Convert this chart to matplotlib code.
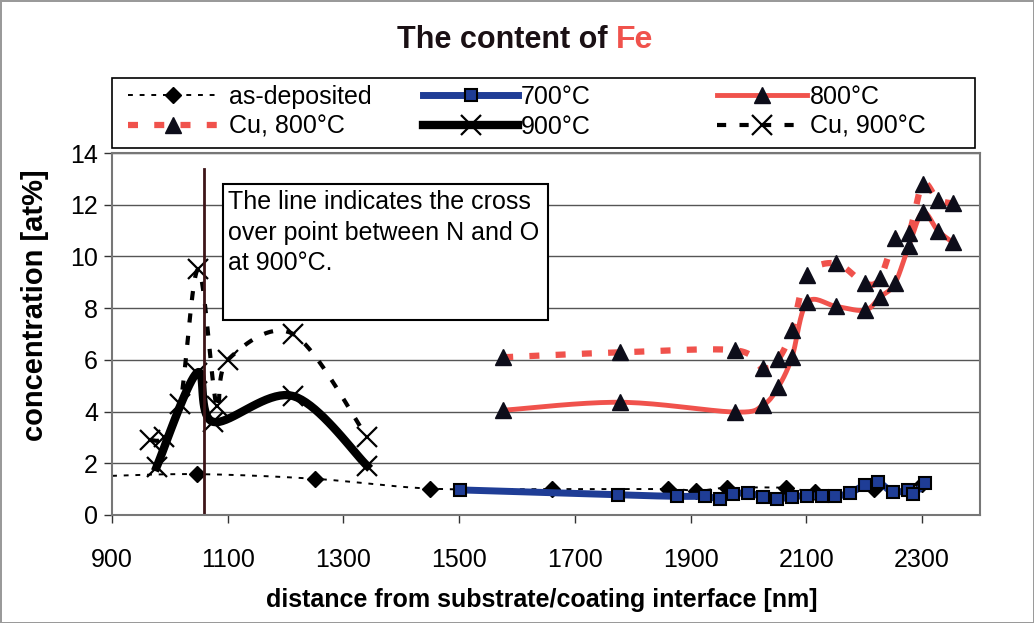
import numpy as np
import matplotlib.pyplot as plt
from matplotlib.patches import Rectangle

# --- data ---
asdep_x = [880, 1047, 1250, 1449, 1660, 1860, 1910, 1962, 2064, 2114, 2216, 2300]
asdep_y = [1.5, 1.58, 1.4, 1.02, 1.0, 1.0, 0.93, 1.05, 1.05, 0.9, 1.0, 1.2]

x700 = [1501, 1774, 1876, 1925, 1951, 1973, 1999, 2025, 2049, 2075, 2101,
        2127, 2149, 2175, 2201, 2224, 2249, 2276, 2284, 2305]
y700 = [0.97, 0.78, 0.72, 0.72, 0.62, 0.8, 0.85, 0.7, 0.62, 0.7, 0.75,
        0.72, 0.72, 0.85, 1.16, 1.27, 0.89, 0.95, 0.8, 1.24]

x800 = [1576, 1778, 1977, 2025, 2051, 2075, 2101, 2151, 2201, 2227, 2253, 2277, 2301, 2327, 2353]
y800 = [4.05, 4.36, 3.98, 4.25, 4.94, 6.1, 8.22, 8.07, 7.92, 8.42, 8.96, 10.42, 11.7, 11.0, 10.54]
y_cu800 = [6.1, 6.29, 6.37, 5.68, 6.02, 7.14, 9.27, 9.73, 8.96, 9.15, 10.7, 10.9, 12.8, 12.2, 12.05]

x900 = [977, 1047, 1075, 1213, 1341]
y900 = [1.85, 5.5, 3.6, 4.6, 1.9]

x_cu900 = [966, 990, 1018, 1049, 1081, 1100, 1213, 1341]
y_cu900 = [2.9, 3.0, 4.3, 9.5, 4.2, 6.0, 7.0, 3.0]

crossover_x = 1059
crossover_top = 13.4

xticks = [900, 1100, 1300, 1500, 1700, 1900, 2100, 2300]
yticks = [0, 2, 4, 6, 8, 10, 12, 14]

plt.rcParams['font.family'] = ['Liberation Sans', 'DejaVu Sans']

RED = '#f0524c'
BLUE = '#1f3d96'
TRI = '#0d0d1a'


def smooth(xs, ys, n=20):
    # Excel-like smoothed line: cubic Bezier through each point
    p = np.column_stack([xs, ys]).astype(float)
    pts = np.vstack([p[0], p, p[-1]])
    out = []
    t = np.linspace(0, 1, n)[:, None]
    for i in range(1, len(pts) - 2):
        p0, p1, p2, p3 = pts[i - 1], pts[i], pts[i + 1], pts[i + 2]
        c1 = p1 + (p2 - p0) / 6
        c2 = p2 - (p3 - p1) / 6
        seg = ((1 - t) ** 3) * p1 + 3 * ((1 - t) ** 2) * t * c1 + 3 * (1 - t) * t ** 2 * c2 + t ** 3 * p2
        out.append(seg)
    out = np.vstack(out)
    return out[:, 0], out[:, 1]


fig = plt.figure(figsize=(10.34, 6.23), dpi=100)
fig.patch.set_edgecolor('#9a9a9a')
fig.patch.set_linewidth(2)
ax = fig.add_axes([0.1083, 0.1734, 0.8395, 0.581])

# as-deposited
sx, sy = smooth(asdep_x, asdep_y)
ax.plot(sx, sy, color='black', lw=1.4, ls=(0, (2.5, 3.5)))
ax.plot(asdep_x, asdep_y, ls='none', marker='D', ms=8, color='black')

# 700°C
sx, sy = smooth(x700, y700)
ax.plot(sx, sy, color=BLUE, lw=5)
ax.plot(x700, y700, ls='none', marker='s', ms=9, mfc=BLUE, mec='black', mew=1.5)

# 800°C and Cu, 800°C
sx, sy = smooth(x800, y800)
ax.plot(sx, sy, color=RED, lw=3.5)
sx, sy = smooth(x800, y_cu800)
ax.plot(sx, sy, color=RED, lw=4.5, ls=(0, (1.6, 2.6)))
ax.plot(x800, y800, ls='none', marker='^', ms=12, color=TRI)
ax.plot(x800, y_cu800, ls='none', marker='^', ms=12, color=TRI)

# 900°C and Cu, 900°C
sx, sy = smooth(x900, y900)
ax.plot(sx, sy, color='black', lw=6)
sx, sy = smooth(x_cu900, y_cu900)
ax.plot(sx, sy, color='black', lw=3, ls=(0, (2.2, 3.2)))
ax.plot(x900, y900, ls='none', marker='x', ms=15, mew=1.6, color='black')
ax.plot(x_cu900, y_cu900, ls='none', marker='x', ms=15, mew=1.6, color='black')

# cross over line and note
ax.plot([crossover_x, crossover_x], [0, crossover_top], color='#3d1518', lw=2)
ax.add_patch(Rectangle((1092, 7.53), 561, 5.27, fc='white', ec='black', lw=1.5, zorder=5))
ax.text(1100, 12.55, 'The line indicates the cross\nover point between N and O\nat 900°C.',
        fontsize=18, va='top', ha='left', linespacing=1.33, zorder=6)

ax.set_xlim(900, 2400)
ax.set_ylim(0, 14)
ax.set_xticks(xticks)
ax.set_yticks(yticks)
ax.tick_params(labelsize=18, length=6, width=1, color='#333333')
ax.tick_params(axis='x', pad=18)
ax.tick_params(axis='y', pad=4)
ax.grid(axis='y', color='#555555', lw=1)
ax.set_axisbelow(True)
for s in ax.spines.values():
    s.set_color('#777777')
    s.set_linewidth(1.5)

ax.set_xlabel('distance from substrate/coating interface [nm]', fontsize=18,
              fontweight='bold')
ax.set_ylabel('concentration [at%]', fontsize=21, fontweight='bold')
ax.xaxis.set_label_coords(0.495, -0.203)
ax.yaxis.set_label_coords(-0.072, 0.58)

fig.text(0.596, 0.935, 'The content of ', fontsize=22, fontweight='bold',
         ha='right', va='center', color='#1a1014')
fig.text(0.596, 0.935, 'Fe', fontsize=23, fontweight='bold',
         ha='left', va='center', color=RED)

# legend handles
h_asdep = ax.plot([], [], color='black', lw=1.4, ls=(0, (2.5, 3.5)), marker='D', ms=8)[0]
h_700 = ax.plot([], [], color=BLUE, lw=5, marker='s', ms=9, mfc=BLUE, mec='black', mew=1.5)[0]
h_800 = ax.plot([], [], color=RED, lw=3.5, marker='^', ms=12, mfc=TRI, mec=TRI)[0]
h_cu800 = ax.plot([], [], color=RED, lw=4.5, ls=(0, (1.6, 2.6)), marker='^', ms=12,
                  mfc=TRI, mec=TRI)[0]
h_900 = ax.plot([], [], color='black', lw=6, marker='x', ms=15, mew=1.6)[0]
h_cu900 = ax.plot([], [], color='black', lw=3, ls=(0, (2.2, 3.2)), marker='x', ms=15, mew=1.6)[0]

columns = [
    ([h_asdep, h_cu800], ['as-deposited', 'Cu, 800°C'], 128, 3.6, 0.45),
    ([h_700, h_900], ['700°C', '900°C'], 423, 3.8, 0.12),
    ([h_800, h_cu900], ['800°C', 'Cu, 900°C'], 717, 3.6, 0.12),
]
for hs, labels, px, hl, pad in columns:
    leg = fig.legend(hs, labels, loc='upper left', bbox_to_anchor=(px / 1034, 1 - 85 / 623),
                     fontsize=18, handlelength=hl, handletextpad=pad, labelspacing=0.22,
                     borderpad=0, borderaxespad=0, frameon=False)
fig.add_artist(Rectangle((112 / 1034, 1 - 148 / 623), 863 / 1034, 70 / 623,
                         transform=fig.transFigure, fill=False, ec='black', lw=1.2))

fig.savefig('out.png', dpi=100)
